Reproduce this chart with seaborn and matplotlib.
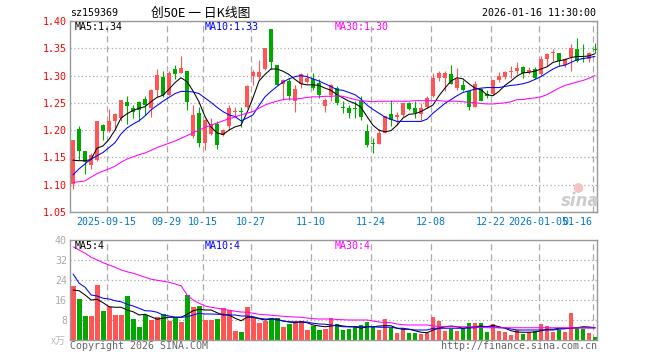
import numpy as np
import pandas as pd
import seaborn as sns
import matplotlib.pyplot as plt

# daily candles, 2025-09-05 .. 2026-01-16 (88 trading days)
opens = [1.101, 1.203, 1.161, 1.137, 1.145, 1.210, 1.199, 1.217, 1.222, 1.252,
         1.240, 1.252, 1.257, 1.240, 1.274, 1.298, 1.265, 1.312, 1.305, 1.309,
         1.189, 1.231, 1.177, 1.193, 1.212, 1.191, 1.208, 1.233, 1.235, 1.242,
         1.299, 1.298, 1.312, 1.385, 1.319, 1.285, 1.290, 1.253, 1.285, 1.288,
         1.294, 1.287, 1.245, 1.265, 1.277, 1.243, 1.240, 1.240, 1.253, 1.198,
         1.176, 1.175, 1.195, 1.230, 1.225, 1.227, 1.249, 1.240, 1.229, 1.242,
         1.262, 1.296, 1.296, 1.302, 1.277, 1.283, 1.271, 1.242, 1.275, 1.267,
         1.267, 1.291, 1.298, 1.306, 1.309, 1.316, 1.307, 1.312, 1.302, 1.331,
         1.341, 1.341, 1.319, 1.334, 1.348, 1.333, 1.330, 1.3485]
highs = [1.182, 1.208, 1.162, 1.158, 1.217, 1.212, 1.238, 1.231, 1.256, 1.263,
         1.246, 1.253, 1.263, 1.275, 1.312, 1.308, 1.308, 1.319, 1.336, 1.309,
         1.246, 1.243, 1.220, 1.222, 1.216, 1.203, 1.246, 1.243, 1.242, 1.283,
         1.311, 1.328, 1.350, 1.385, 1.320, 1.293, 1.296, 1.283, 1.305, 1.305,
         1.305, 1.293, 1.259, 1.284, 1.280, 1.253, 1.246, 1.253, 1.262, 1.212,
         1.185, 1.203, 1.226, 1.256, 1.234, 1.249, 1.251, 1.253, 1.249, 1.262,
         1.305, 1.308, 1.308, 1.319, 1.314, 1.291, 1.272, 1.290, 1.277, 1.274,
         1.291, 1.306, 1.308, 1.317, 1.324, 1.317, 1.316, 1.316, 1.336, 1.342,
         1.349, 1.342, 1.333, 1.357, 1.368, 1.357, 1.343, 1.360]
lows = [1.092, 1.145, 1.120, 1.128, 1.143, 1.182, 1.197, 1.200, 1.216, 1.211,
        1.222, 1.216, 1.228, 1.225, 1.261, 1.261, 1.264, 1.293, 1.305, 1.237,
        1.185, 1.169, 1.163, 1.192, 1.166, 1.190, 1.200, 1.225, 1.206, 1.240,
        1.283, 1.294, 1.311, 1.312, 1.283, 1.256, 1.256, 1.234, 1.277, 1.287,
        1.274, 1.259, 1.234, 1.253, 1.246, 1.232, 1.222, 1.222, 1.219, 1.170,
        1.158, 1.174, 1.194, 1.208, 1.209, 1.225, 1.237, 1.222, 1.219, 1.240,
        1.261, 1.290, 1.271, 1.284, 1.274, 1.271, 1.236, 1.242, 1.253, 1.259,
        1.265, 1.288, 1.293, 1.296, 1.302, 1.296, 1.302, 1.294, 1.300, 1.317,
        1.327, 1.317, 1.316, 1.308, 1.324, 1.324, 1.324, 1.342]
closes = [1.182, 1.162, 1.141, 1.155, 1.217, 1.199, 1.216, 1.230, 1.255, 1.245,
          1.234, 1.236, 1.246, 1.274, 1.301, 1.265, 1.304, 1.302, 1.313, 1.251,
          1.228, 1.177, 1.219, 1.212, 1.172, 1.201, 1.240, 1.235, 1.233, 1.281,
          1.306, 1.306, 1.350, 1.324, 1.283, 1.291, 1.262, 1.276, 1.302, 1.296,
          1.277, 1.265, 1.255, 1.283, 1.249, 1.241, 1.232, 1.239, 1.224, 1.172,
          1.174, 1.194, 1.225, 1.219, 1.227, 1.249, 1.238, 1.231, 1.241, 1.259,
          1.296, 1.304, 1.304, 1.285, 1.294, 1.274, 1.243, 1.285, 1.254, 1.262,
          1.291, 1.299, 1.306, 1.309, 1.313, 1.305, 1.310, 1.296, 1.331, 1.340,
          1.342, 1.327, 1.331, 1.351, 1.327, 1.330, 1.342, 1.3475]

ma5 = [1.145, 1.144, 1.144, 1.146, 1.167, 1.171, 1.183, 1.200, 1.222, 1.230,
       1.236, 1.240, 1.243, 1.252, 1.260, 1.264, 1.275, 1.287, 1.296, 1.289,
       1.272, 1.252, 1.225, 1.206, 1.195, 1.192, 1.200, 1.206, 1.209, 1.232,
       1.259, 1.290, 1.302, 1.312, 1.312, 1.308, 1.302, 1.293, 1.285, 1.283,
       1.283, 1.282, 1.277, 1.273, 1.265, 1.259, 1.253, 1.249, 1.242, 1.225,
       1.209, 1.200, 1.197, 1.199, 1.209, 1.222, 1.229, 1.230, 1.234, 1.240,
       1.246, 1.263, 1.277, 1.290, 1.296, 1.294, 1.285, 1.277, 1.274, 1.265,
       1.263, 1.271, 1.282, 1.290, 1.299, 1.305, 1.306, 1.308, 1.312, 1.316,
       1.324, 1.327, 1.329, 1.333, 1.335, 1.335, 1.336, 1.340]
ma10 = [1.118, 1.129, 1.138, 1.147, 1.153, 1.159, 1.168, 1.177, 1.193, 1.204,
        1.211, 1.217, 1.226, 1.237, 1.245, 1.253, 1.260, 1.267, 1.271, 1.271,
        1.270, 1.267, 1.259, 1.251, 1.242, 1.234, 1.228, 1.225, 1.217, 1.222,
        1.228, 1.245, 1.261, 1.271, 1.280, 1.288, 1.294, 1.298, 1.300, 1.298,
        1.294, 1.290, 1.285, 1.280, 1.274, 1.273, 1.269, 1.265, 1.257, 1.246,
        1.238, 1.231, 1.224, 1.220, 1.216, 1.216, 1.216, 1.216, 1.216, 1.220,
        1.231, 1.240, 1.249, 1.256, 1.263, 1.269, 1.272, 1.275, 1.277, 1.278,
        1.278, 1.278, 1.280, 1.282, 1.283, 1.285, 1.288, 1.293, 1.298, 1.305,
        1.312, 1.317, 1.319, 1.324, 1.329, 1.331, 1.333, 1.335]
ma30 = [1.104, 1.1055, 1.107, 1.114, 1.120, 1.125, 1.129, 1.134, 1.141, 1.147,
        1.151, 1.155, 1.158, 1.163, 1.168, 1.172, 1.176, 1.180, 1.185, 1.190,
        1.195, 1.200, 1.205, 1.209, 1.213, 1.217, 1.221, 1.224, 1.228, 1.231,
        1.234, 1.240, 1.246, 1.250, 1.253, 1.256, 1.257, 1.257, 1.258, 1.260,
        1.261, 1.261, 1.262, 1.262, 1.263, 1.262, 1.259, 1.256, 1.254, 1.253,
        1.252, 1.253, 1.253, 1.253, 1.253, 1.253, 1.253, 1.254, 1.254, 1.254,
        1.254, 1.254, 1.253, 1.253, 1.253, 1.252, 1.251, 1.250, 1.249, 1.248,
        1.248, 1.249, 1.250, 1.252, 1.256, 1.256, 1.258, 1.259, 1.261, 1.265,
        1.271, 1.277, 1.282, 1.285, 1.288, 1.291, 1.295, 1.300]

# volume in 万
volume = [21.6, 16.4, 9.6, 9.6, 22.0, 11.6, 13.1, 10.0, 10.0, 17.6,
          8.4, 5.2, 10.0, 8.0, 9.1, 10.4, 7.6, 9.1, 7.2, 18.0,
          13.2, 13.6, 8.0, 8.0, 8.4, 12.7, 12.0, 3.6, 3.2, 13.2,
          9.1, 6.7, 7.6, 8.7, 8.9, 5.2, 6.4, 7.6, 7.7, 4.0,
          5.7, 4.1, 4.3, 9.0, 6.4, 4.0, 4.4, 5.6, 6.0, 7.3,
          5.3, 4.0, 8.4, 4.9, 2.7, 4.7, 2.8, 2.8, 2.4, 2.9,
          9.2, 7.6, 3.6, 4.3, 3.6, 4.7, 6.7, 6.7, 6.7, 3.2,
          6.4, 3.6, 3.2, 2.0, 4.0, 2.4, 3.2, 3.6, 6.4, 5.6,
          3.2, 4.0, 3.2, 10.8, 4.8, 4.5, 2.8, 1.3]
vma5 = [20, 19.7, 18, 16, 16.3, 14.9, 13.3, 13.1, 13.1, 12,
        11.3, 10, 10.3, 9.3, 8.3, 8.7, 9.1, 9.1, 9.1, 10.3,
        11.7, 12.3, 12, 12, 10.9, 10, 10, 8.7, 7.7, 9.1,
        9.1, 8.5, 8.0, 8.5, 8.3, 7.6, 7.2, 6.9, 7.3, 6.9,
        6.0, 5.6, 5.3, 5.6, 6.0, 5.6, 5.3, 5.3, 4.7, 5.3,
        5.3, 5.6, 5.7, 5.7, 4.7, 4.3, 4.3, 3.7, 3.1, 2.9,
        4.0, 4.7, 5.3, 5.6, 5.3, 4.7, 5.1, 5.3, 5.6, 5.3,
        5.9, 5.3, 4.7, 3.7, 3.2, 3.1, 3.1, 3.2, 3.7, 4.3,
        4.3, 4.7, 4.7, 4.7, 4.9, 5.3, 5.2, 4.9]
vma10 = [26.4, 22.7, 21.1, 18, 17.6, 16.7, 16.4, 15.7, 15.3, 14.3,
         13.6, 12.7, 11.7, 11.6, 11.1, 10, 9.6, 9.1, 9.1, 9.3,
         10, 10.7, 10.4, 10.4, 10.3, 10.3, 10, 10, 9.6, 9.6,
         9.3, 8.7, 8.4, 8.4, 8.0, 7.6, 7.3, 7.2, 7.2, 7.2,
         6.7, 6.4, 6.3, 6.0, 5.6, 5.3, 5.3, 5.3, 5.3, 5.3,
         5.3, 5.1, 5.1, 5.1, 4.7, 4.7, 4.3, 4.0, 4.0, 4.0,
         4.7, 4.7, 4.7, 4.7, 4.7, 4.7, 4.8, 4.9, 5.3, 5.3,
         5.3, 4.9, 4.9, 4.4, 4.0, 4.0, 4.0, 4.0, 4.0, 4.0,
         4.0, 4.3, 4.5, 4.8, 4.9, 4.9, 4.9, 4.9]
vma30 = [37.3, 36, 34.7, 33.1, 32, 30.9, 30, 29.1, 28, 27.3,
         26.7, 25.9, 25.1, 24.3, 23.9, 23.5, 23.1, 22.4, 21.7, 18.0,
         16, 14.7, 13.6, 13.1, 12.7, 12.3, 11.9, 11.5, 11.2, 11.1,
         10.7, 10.3, 10.1, 9.9, 9.7, 9.5, 9.3, 9.2, 9.1, 8.8,
         8.5, 8.4, 8.4, 8.4, 8.2, 8.1, 8.0, 8.0, 8.0, 8.0,
         7.6, 7.2, 7.0, 6.9, 6.4, 6.1, 6.0, 6.0, 6.0, 6.0,
         5.6, 5.4, 5.3, 5.3, 5.3, 5.3, 5.3, 5.2, 5.0, 4.9,
         4.9, 4.9, 4.9, 4.9, 4.9, 4.9, 4.9, 4.9, 4.9, 4.9,
         4.9, 4.9, 4.9, 4.8, 4.8, 4.8, 4.8, 4.8]

date_pos = [6, 16, 22, 30, 40, 50, 60, 70, 78, 87]
date_labels = ['2025-09-15', '09-29', '10-15', '10-27', '11-10', '11-24',
               '12-08', '12-22', '2026-01-05', '01-16']
price_ticks = [1.05, 1.10, 1.15, 1.20, 1.25, 1.30, 1.35, 1.40]
vol_ticks = [8, 16, 24, 32, 40]

UP = '#ff5555'
DOWN = '#00a800'
GRID = '#aaaaaa'
MONO = 'DejaVu Sans Mono'
FS = 7.2

sns.set_style('white')
plt.rcParams['font.family'] = [MONO, 'Noto Sans CJK SC']

df = pd.DataFrame({'o': opens, 'h': highs, 'l': lows, 'c': closes,
                   'ma5': ma5, 'ma10': ma10, 'ma30': ma30,
                   'vol': volume, 'vma5': vma5, 'vma10': vma10, 'vma30': vma30})
df['x'] = np.arange(len(df))
df['color'] = np.where(df.c >= df.o, UP, DOWN)

fig = plt.figure(figsize=(6.6, 3.6), dpi=100)
W, H = 660, 360
ax1 = fig.add_axes([70 / W, 1 - 212 / H, 527 / W, 191 / H])
ax2 = fig.add_axes([70 / W, 1 - 340 / H, 527 / W, 100 / H])

bw = 0.75
# candles
ax1.vlines(df.x + bw / 2, df.l, df.h, colors=df.color, lw=0.8, zorder=2)
body = np.maximum((df.c - df.o).abs(), 0.0018)
ax1.bar(df.x, body, bottom=np.minimum(df.o, df.c), width=bw, align='edge',
        color=df.color, linewidth=0, zorder=2)
for col, clr in [('ma5', 'black'), ('ma10', '#0000ff'), ('ma30', '#ff00ff')]:
    sns.lineplot(x=df.x + bw / 2, y=df[col], ax=ax1, color=clr, lw=0.75,
                 legend=False, zorder=3)

# volume
ax2.bar(df.x, df.vol, width=0.8, align='edge', color=df.color, linewidth=0, zorder=2)
for col, clr in [('vma5', 'black'), ('vma10', '#0000ff'), ('vma30', '#ff00ff')]:
    sns.lineplot(x=df.x + 0.4, y=df[col], ax=ax2, color=clr, lw=0.75,
                 legend=False, zorder=3)

for ax in (ax1, ax2):
    ax.set_xlim(-0.12, 87.72)
    ax.set_xlabel('')
    ax.set_ylabel('')
    for s in ax.spines.values():
        s.set_color('#999999')
        s.set_linewidth(1)
    ax.set_xticks(date_pos)
    ax.grid(False)
    ax.xaxis.grid(True, linestyle=(0, (5, 3)), color=GRID, lw=0.9)
    ax.yaxis.grid(True, linestyle=(0, (1, 2)), color=GRID, lw=0.9)
    ax.tick_params(length=0)
    ax.set_axisbelow(True)

ax1.set_ylim(1.05, 1.40)
ax1.set_yticks(price_ticks)
ax1.set_yticklabels(['%.2f' % t for t in price_ticks], color='red', fontsize=FS)
ax1.set_xticklabels(date_labels, color='#0077cc', fontsize=FS)
# the last date sits against the right edge, as in the source chart
ax1.xaxis.get_ticklabels()[-1].set_ha('right')
ax1.tick_params(axis='y', pad=2.2)
ax1.tick_params(axis='x', pad=3.5)

ax2.set_ylim(0, 40)
ax2.set_yticks(vol_ticks)
ax2.set_yticklabels([str(t) for t in vol_ticks], color='#aaaaaa', fontsize=FS)
ax2.set_xticklabels([])
ax2.tick_params(axis='y', pad=2.2)


def ftext(x, y, s, **kw):
    kw.setdefault('fontsize', FS)
    kw.setdefault('va', 'center')
    fig.text(x / W, 1 - y / H, s, **kw)


ftext(70, 13, 'sz159369', color='black')
ftext(151, 13, '创50E 一 日K线图', color='black', fontsize=9.2,
      family=['Noto Sans CJK SC', 'DejaVu Sans'])
ftext(596, 13, '2026-01-16 11:30:00', color='black', ha='right')

ftext(75, 27, 'MA5:1.34', color='black')
ftext(205, 27, 'MA10:1.33', color='#0000ff')
ftext(335, 27, 'MA30:1.30', color='#ff00ff')

ftext(75, 246, 'MA5:4', color='black')
ftext(205, 246, 'MA10:4', color='#0000ff')
ftext(335, 246, 'MA30:4', color='#ff00ff')

ftext(66, 341, 'x万', color='#bbbbbb', ha='right', style='italic',
      family=['Noto Sans CJK SC', 'DejaVu Sans'])
ftext(70, 346, 'Copyright 2026 SINA.COM', color='#666666')
ftext(597, 346, 'http://finance.sina.com.cn', color='#666666', ha='right')

# sina watermark
ftext(580, 201, 'sina', color='#cccccc', fontsize=12, ha='center',
      style='italic', weight='bold', family='DejaVu Sans')
ftext(578, 187, '●', color='#f4c4c4', fontsize=9, ha='center', family='DejaVu Sans')

fig.savefig('out.png', dpi=100)
